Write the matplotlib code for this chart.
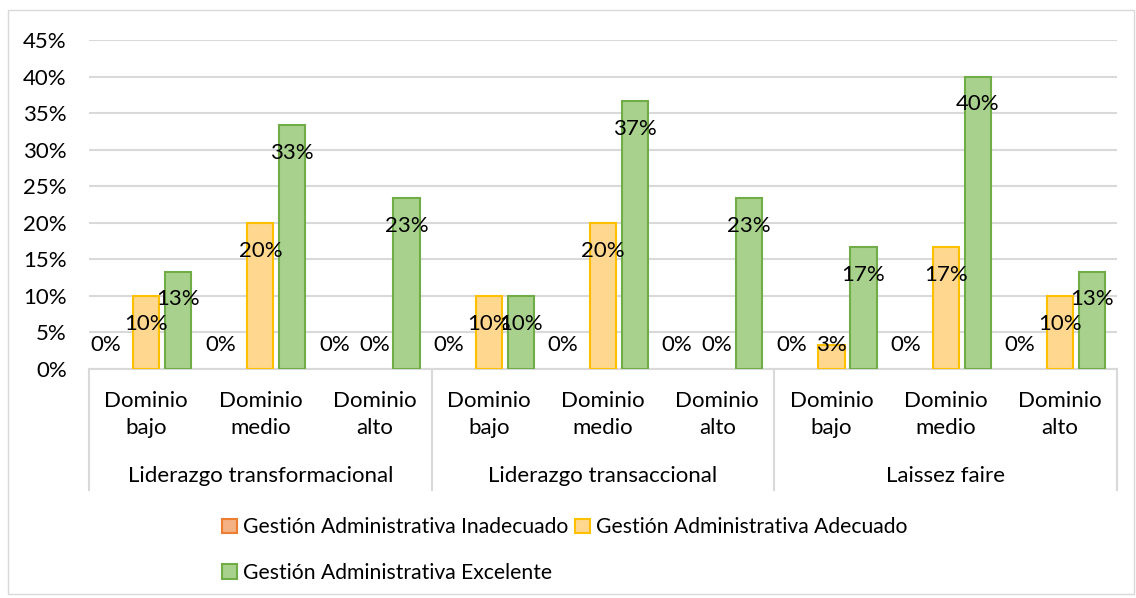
import matplotlib.pyplot as plt
import matplotlib.transforms as mtransforms
from matplotlib.patches import Rectangle, Patch
import numpy as np

plt.rcParams['font.family'] = ['Lato', 'DejaVu Sans']

groups = ["Liderazgo transformacional", "Liderazgo transaccional", "Laissez faire"]
levels = ["Dominio\nbajo", "Dominio\nmedio", "Dominio\nalto"]
series = ["Gestión Administrativa Inadecuado",
          "Gestión Administrativa Adecuado",
          "Gestión Administrativa Excelente"]

inadecuado = [0, 0, 0, 0, 0, 0, 0, 0, 0]
adecuado = [10, 20, 0, 10, 20, 0, 3.33, 16.67, 10]
excelente = [13.33, 33.33, 23.33, 10, 36.67, 23.33, 16.67, 40, 13.33]

fills = ["#F4B183", "#FFD78F", "#A9D18E"]
edges = ["#ED7D31", "#FFC000", "#70AD47"]

fs = 16
fig = plt.figure(figsize=(11.36, 5.98), dpi=100)
ax = fig.add_axes([89 / 1136, 1 - 369 / 598, (1117 - 89) / 1136, (369 - 40) / 598])

# outer chart border
fig.patches.append(Rectangle((8 / 1136, 4 / 598), 1126 / 1136, 584 / 598,
                             transform=fig.transFigure, fill=False,
                             edgecolor="#D9D9D9", linewidth=1))

x = np.arange(len(levels) * len(groups))
w = 0.23
offs = [-0.28, 0, 0.28]
for i, vals in enumerate([inadecuado, adecuado, excelente]):
    b = ax.bar(x + offs[i], vals, w, color=fills[i], edgecolor=edges[i],
               linewidth=1.5, zorder=3)
    # Excel does not draw zero-height bars
    for patch, v in zip(b.patches, vals):
        if v == 0:
            patch.set_visible(False)
    for xi, v in zip(x + offs[i], vals):
        ax.annotate(f"{v:.0f}%", (xi, max(v - 3.8, 3.3)),
                    xytext=(-8 if i == 0 else 0, 0), textcoords="offset pixels",
                    ha="center", va="center", fontsize=fs, color="#000000",
                    zorder=5)

ax.set_ylim(0, 45)
ax.set_xlim(-0.5, len(x) - 0.5)
ax.set_yticks(np.arange(0, 46, 5))
ax.set_yticklabels([f"{t}%" for t in range(0, 46, 5)])
ax.yaxis.grid(True, color="#D9D9D9", linewidth=1.5, zorder=0)
ax.tick_params(axis="y", length=0, pad=16, labelsize=fs)
ax.set_xticks(x)
ax.set_xticklabels(levels * len(groups))
ax.tick_params(axis="x", length=0, pad=16, labelsize=fs)
for lab in ax.get_xticklabels():
    lab.set_linespacing(1.45)
for s in ["top", "right", "left"]:
    ax.spines[s].set_visible(False)
ax.spines["bottom"].set_color("#D9D9D9")
ax.spines["bottom"].set_linewidth(1.5)

trans = mtransforms.blended_transform_factory(ax.transData, ax.transAxes)
for k in range(len(groups) + 1):
    xb = k * len(levels) - 0.5
    ax.plot([xb, xb], [0, -121 / 329], color="#D9D9D9", linewidth=1.5,
            transform=trans, clip_on=False)
for k, g in enumerate(groups):
    ax.text(k * len(levels) + 1, -107 / 329, g, transform=trans,
            ha="center", va="center", fontsize=fs)

handles = [Patch(facecolor=fills[i], edgecolor=edges[i], linewidth=1.5) for i in range(3)]
order = [0, 2, 1]
fig.legend([handles[i] for i in order], [series[i] for i in order], ncol=2,
           loc="center", bbox_to_anchor=(565 / 1136, 1 - 550 / 598),
           frameon=False, fontsize=15.2, handlelength=0.7, handleheight=0.7,
           handletextpad=0.3, columnspacing=0.3, labelspacing=1.2)

fig.savefig("out.png", dpi=100)
